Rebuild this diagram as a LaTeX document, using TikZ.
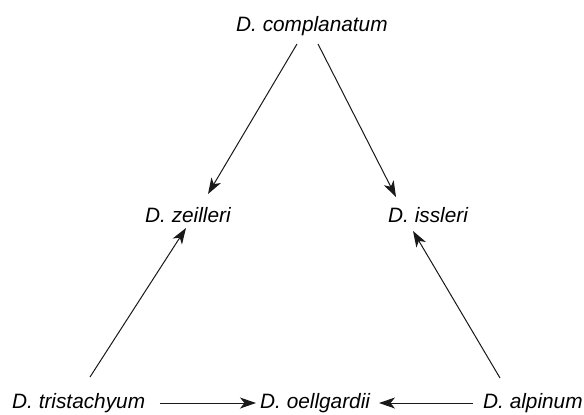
\documentclass[tikz,border=0pt]{standalone}
\usepackage{fontspec}
\setmainfont{Liberation Sans}
\usetikzlibrary{calc,arrows.meta}
\begin{document}
\begin{tikzpicture}[x=1bp,y=-1bp,
  taxon/.style={anchor=base west,inner sep=0pt,
    font=\fontsize{20.8bp}{25bp}\selectfont\itshape},
  link/.style={draw=black!90,line width=1bp,
    -{Stealth[length=16bp,width=11bp,inset=4.5bp]}}]
\useasboundingbox[fill=white] (0,0) rectangle (584,414);

% species names
\node[taxon] (top)  at (236,31)  {D. complanatum};
\node[taxon] (zeil) at (145,222) {D. zeilleri};
\node[taxon] (iss)  at (388,222) {D. issleri};
\node[taxon] (tri)  at (12,408)  {D. tristachyum};
\node[taxon] (oel)  at (260,408) {D. oellgardii};
\node[taxon] (alp)  at (483,408) {D. alpinum};

% derivation arrows
\draw[link] ($(top.base west)+(61,13)$)  -- ($(zeil.base west)+(63,-28)$);
\draw[link] ($(top.base west)+(82,13)$)  -- ($(iss.base west)+(8,-25)$);
\draw[link] ($(tri.base west)+(78,-31)$) -- ($(zeil.base west)+(41,6)$);
\draw[link] ($(alp.base west)+(17,-30)$) -- ($(iss.base west)+(25,9)$);
\draw[link] ($(tri.base west)+(148,-5)$) -- ($(oel.base west)+(-4,-5)$);
\draw[link] ($(alp.base west)+(-10,-5)$) -- ($(oel.base west)+(119,-5)$);
\end{tikzpicture}
\end{document}
